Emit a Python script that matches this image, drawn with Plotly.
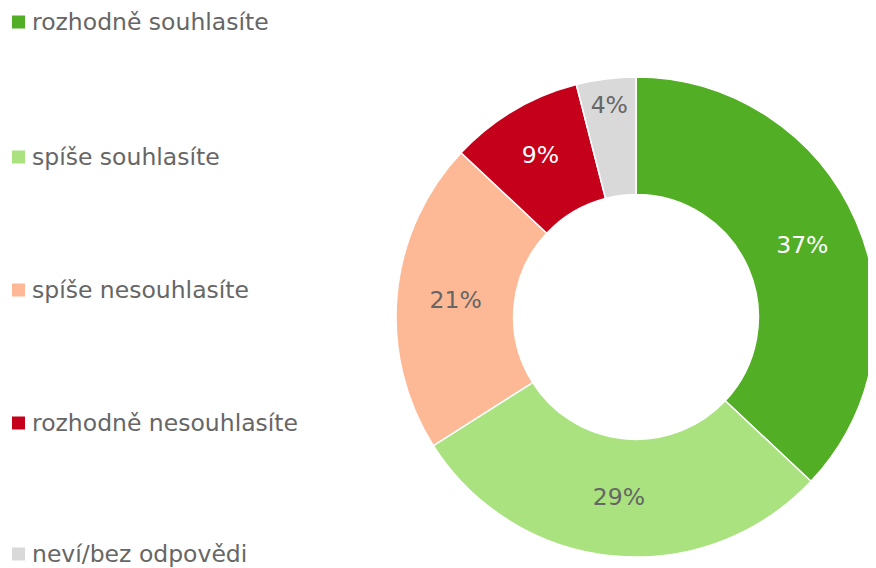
import plotly.graph_objects as go

labels = ["rozhodně souhlasíte", "spíše souhlasíte", "spíše nesouhlasíte",
          "rozhodně nesouhlasíte", "neví/bez odpovědi"]
values = [37, 29, 21, 9, 4]
colors = ["#52AE24", "#A9E27E", "#FDB996", "#C5001A", "#D9D9D9"]
text_colors = ["#FFFFFF", "#666666", "#666666", "#FFFFFF", "#666666"]

# page has an 8px body margin, so the figure is drawn 8px in from the corner
OFF = 8
W, H = 876 - OFF, 568 - OFF
FONT = "Verdana, DejaVu Sans, sans-serif"
FS = 23.5

cx, cy, R = 636 - OFF, 317 - OFF, 240
fig = go.Figure(go.Pie(
    labels=labels, values=values, sort=False, direction="clockwise", rotation=0,
    hole=0.51,
    marker=dict(colors=colors, line=dict(color="white", width=1.5)),
    textinfo="percent", textposition="inside", insidetextorientation="horizontal",
    insidetextfont=dict(family=FONT, size=FS, color=text_colors),
    domain=dict(x=[(cx - R) / W, 1], y=[1 - (cy + R) / H, 1 - (cy - R) / H]),
    showlegend=False, hoverinfo="label+percent",
))

# manual legend, evenly spaced down the left side
legend_y = [22, 157, 290, 423, 554]
shapes, annotations = [], []
for lab, col, py in zip(labels, colors, legend_y):
    py -= OFF
    shapes.append(dict(type="rect", xref="paper", yref="paper",
                       x0=(12 - OFF) / W, x1=(25 - OFF) / W,
                       y0=1 - (py + 6.5) / H, y1=1 - (py - 6.5) / H,
                       fillcolor=col, line=dict(width=0)))
    annotations.append(dict(text=lab, xref="paper", yref="paper", x=(30 - OFF) / W, y=1 - py / H,
                            xanchor="left", yanchor="middle", showarrow=False,
                            font=dict(family=FONT, size=FS, color="#666666")))

fig.update_layout(
    width=W, height=H, margin=dict(l=0, r=0, t=0, b=0),
    paper_bgcolor="white", plot_bgcolor="white",
    shapes=shapes, annotations=annotations,
    uniformtext=dict(minsize=FS, mode="show"),
)
fig.write_html("out.html")
